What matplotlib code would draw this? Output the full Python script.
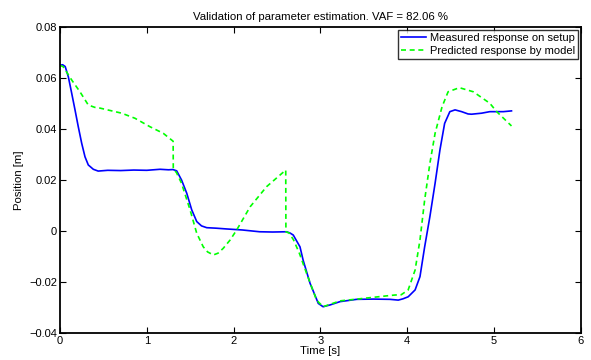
import matplotlib
matplotlib.use("Agg")
import matplotlib.pyplot as plt

plt.rcParams['font.family'] = ['Liberation Sans', 'DejaVu Sans']

# Measured response on the setup
t_meas = [0.00, 0.03, 0.06, 0.096, 0.135, 0.173, 0.21, 0.25, 0.288, 0.326, 0.384, 0.44,
          0.55, 0.70, 0.85, 1.00, 1.152, 1.25, 1.30, 1.344, 1.40, 1.46, 1.517, 1.575,
          1.63, 1.69, 1.80, 1.92, 2.10, 2.30, 2.45, 2.61, 2.65, 2.687, 2.764, 2.80, 2.88,
          2.975, 3.03, 3.11, 3.225, 3.417, 3.61, 3.80, 3.896, 3.95, 4.01, 4.09, 4.146, 4.20,
          4.26, 4.32, 4.376, 4.43, 4.49, 4.55, 4.626, 4.70, 4.74, 4.856, 4.95, 5.03,
          5.106, 5.20]
y_meas = [0.0650, 0.0652, 0.0645, 0.0605, 0.0540, 0.0475, 0.0410, 0.0344, 0.0291, 0.0259, 0.0242, 0.0235,
          0.0238, 0.0237, 0.0239, 0.0238, 0.0242, 0.0240, 0.0241, 0.0236, 0.0200, 0.0148, 0.0083, 0.0037,
          0.0020, 0.0013, 0.0011, 0.0008, 0.0004, -0.0003, -0.0004, -0.0003, -0.0008, -0.0016, -0.0062, -0.0114, -0.0205,
          -0.0284, -0.0297, -0.0290, -0.0277, -0.0268, -0.0267, -0.0268, -0.0271, -0.0266, -0.0258, -0.0231, -0.0179, -0.0062,
          0.0056, 0.0187, 0.0318, 0.0422, 0.0468, 0.0475, 0.0468, 0.0459, 0.0458, 0.0462, 0.0468, 0.0468,
          0.0468, 0.0471]

# Response predicted by the identified model
t_pred = [0.00, 0.038, 0.135, 0.23, 0.326, 0.40, 0.46, 0.71, 0.864, 1.036, 1.19, 1.303,
          1.305, 1.34, 1.40, 1.498, 1.575, 1.65, 1.70, 1.766, 1.82, 1.88, 1.96, 2.035, 2.19, 2.38, 2.60,
          2.602, 2.64, 2.69, 2.76, 2.84, 2.955, 3.03, 3.225, 3.42, 3.61, 3.80, 3.86, 3.93, 4.01, 4.09,
          4.146, 4.20, 4.26, 4.32, 4.40, 4.47, 4.60, 4.76, 4.95, 5.03, 5.20]
y_pred = [0.0650, 0.0644, 0.0592, 0.0546, 0.0494, 0.0485, 0.0482, 0.0462, 0.0442, 0.0409, 0.0383, 0.0352,
          0.0241, 0.0230, 0.0187, 0.0083, -0.0009, -0.0062, -0.0082, -0.0094, -0.0087, -0.0068, -0.0035, 0.0004, 0.0095, 0.0174, 0.0239,
          -0.0003, -0.0008, -0.0035, -0.0090, -0.0166, -0.0271, -0.0297, -0.0274, -0.0267, -0.0260, -0.0253, -0.0251, -0.0250, -0.0231, -0.0153,
          -0.0035, 0.0122, 0.0265, 0.0383, 0.0487, 0.0546, 0.0562, 0.0546, 0.0501, 0.0468, 0.0412]

x_ticks = [0, 1, 2, 3, 4, 5, 6]
y_ticks = [-0.04, -0.02, 0, 0.02, 0.04, 0.06, 0.08]
y_tick_labels = ['\u22120.04', '\u22120.02', '0', '0.02', '0.04', '0.06', '0.08']

fig = plt.figure(figsize=(5.91, 3.60), dpi=100)
ax = fig.add_axes([0.1015, 0.075, 0.8815, 0.85])

ax.plot(t_meas, y_meas, color='#0000ff', lw=1.2, label='Measured response on setup')
ax.plot(t_pred, y_pred, color='#00ff00', lw=1.2, ls=(0, (3, 2.2)), label='Predicted response by model')

ax.set_xlim(0, 6)
ax.set_ylim(-0.04, 0.08)
ax.set_xticks(x_ticks)
ax.set_xticklabels([str(v) for v in x_ticks])
ax.set_yticks(y_ticks)
ax.set_yticklabels(y_tick_labels)
ax.tick_params(direction='in', top=True, right=True, labelsize=8, length=4, width=0.8, pad=2)
for s in ax.spines.values():
    s.set_linewidth(1.3)

ax.set_xlabel('Time [s]', fontsize=8.2, labelpad=0)
ax.set_ylabel('Position [m]', fontsize=8.2, labelpad=4)
ax.set_title('Validation of parameter estimation. VAF = 82.06 %', fontsize=8.2, pad=5)

leg = ax.legend(loc='upper right', fontsize=8, frameon=True, fancybox=False,
                edgecolor='black', borderpad=0.25, labelspacing=0.25, handlelength=2.3,
                handletextpad=0.3, borderaxespad=0.3)
leg.get_frame().set_linewidth(1.0)

fig.savefig('out.png', dpi=100)
